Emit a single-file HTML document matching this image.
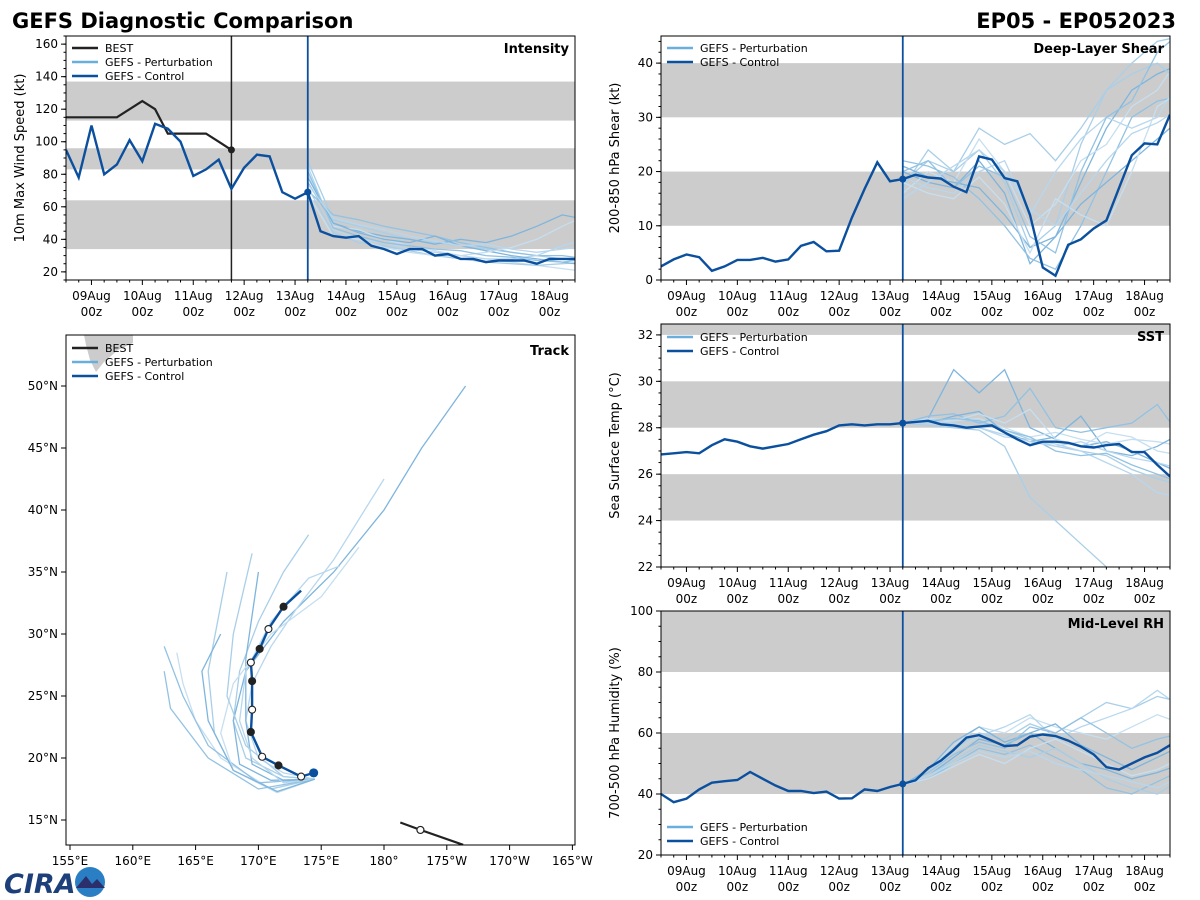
<!DOCTYPE html>
<html><head><meta charset="utf-8"><style>
body{margin:0;background:#fff;}
svg{display:block;font-family:"DejaVu Sans","Liberation Sans",sans-serif;}
</style></head><body>
<svg id="s" width="1200" height="900" viewBox="0 0 1200 900" xmlns="http://www.w3.org/2000/svg">
<text x="12" y="28" font-size="21" font-weight="bold" fill="#000">GEFS Diagnostic Comparison</text>
<text x="1176" y="28" font-size="21" font-weight="bold" fill="#000" text-anchor="end">EP05 - EP052023</text>
<g>
<text x="4" y="893" font-size="27" font-weight="bold" fill="#1d3f7a" font-style="italic">CIRA</text>
<circle cx="90" cy="882" r="15" fill="#2a7fc4"/>
<path d="M76,888 L86,876 L92,884 L97,879 L105,888 Z" fill="#2b2f6b"/>
</g>
</svg>
<script>
const NS='http://www.w3.org/2000/svg';
const svg=document.getElementById('s');
// ---------------- DATA ----------------
const dayLabels=['09Aug','10Aug','11Aug','12Aug','13Aug','14Aug','15Aug','16Aug','17Aug','18Aug'];
const dayValues=[1,2,3,4,5,6,7,8,9,10];
const analysisTime=5.25;
const bestTimes=[0.5,0.75,1,1.25,1.5,1.75,2,2.25,2.5,2.75,3,3.25,3.5,3.75];
const bestIntensity=[115,115,115,115,115,120,125,120,105,105,105,105,100,95];
const intensityControl=[95,78,110,80,86,101,88,111,108,100,79,83,89,71,84,92,91,69,65,69,45,42,41,42,36,34,31,34,34,30,31,28,28,26,27,27,27,25,28,28,28];
const shearControl=[2.5,3.8,4.7,4.2,1.7,2.5,3.7,3.7,4.1,3.4,3.8,6.3,7.0,5.3,5.4,11.5,16.8,21.7,18.2,18.6,19.4,18.9,18.7,17.2,16.2,22.8,22.2,18.8,18.2,12,2.3,0.8,6.5,7.5,9.5,11,17,23,25.2,25,30.5];
const sstControl=[26.85,26.9,26.95,26.9,27.25,27.5,27.4,27.2,27.1,27.2,27.3,27.5,27.7,27.85,28.1,28.15,28.1,28.15,28.15,28.2,28.25,28.3,28.15,28.1,28.0,28.05,28.1,27.8,27.5,27.25,27.4,27.4,27.35,27.2,27.15,27.25,27.3,26.95,26.95,26.4,25.9];
const rhControl=[40,37.3,38.5,41.5,43.7,44.2,44.6,47.2,45,42.8,41,41,40.3,40.8,38.5,38.6,41.5,41,42.3,43.3,44.5,48.5,51,54.5,58.5,59.3,57.5,55.7,56,58.8,59.5,59,57.5,55.5,53,48.8,48,50,52,53.5,56];
const intensityPert=[
[88,52,48,44,40,38,36,34,32,30,28,26],[75,50,45,42,40,37,40,38,42,48,55,52],[80,48,46,40,36,33,30,28,26,24,22,20],
[70,55,52,48,45,42,38,35,32,30,30,28],[85,46,40,38,34,32,30,28,28,30,36,40],[72,44,38,36,33,30,28,26,25,24,25,26],
[78,50,44,40,38,42,36,33,30,28,26,24],[68,42,40,35,32,30,30,32,35,40,48,55],[82,47,42,38,36,34,33,30,29,27,26,28],
[74,53,49,46,42,39,36,37,34,32,34,36]];
const shearPert=[
[18,22,20,24,18,6,10,25,35,40,44,45],[20,18,17,22,16,3,8,18,28,35,38,40],[16,20,18,26,20,10,14,22,25,32,35,42],
[22,21,19,15,10,4,2,10,20,30,33,34],[19,17,16,20,22,12,20,26,30,28,30,38],[17,24,20,28,25,27,22,28,35,38,40,36],
[21,19,18,17,12,6,8,14,18,22,26,30],[18,16,15,19,14,5,15,12,10,20,32,35],[20,22,17,21,19,8,5,20,30,33,42,46],
[15,18,21,24,20,13,10,16,22,27,29,32]];
const sstPert=[
[28.2,28.3,28.4,28.2,27.9,27.5,27.2,27.0,26.8,26.2,25.8,25.5],[28.2,28.4,30.5,29.5,30.5,28,27.5,27.2,27.4,27.0,26.5,26.0],
[28.2,28.2,28.3,28.4,28.0,27.6,27.8,27.5,27.3,27.5,27.4,27.2],[28.2,28.5,28.6,28.2,28.5,29.7,28.0,27.8,28.0,28.2,29.0,27.5],
[28.2,28.3,28.2,28.0,27.6,27.5,27.3,27.0,26.5,26.0,25.2,25.0],[28.2,28.1,28.0,27.9,27.2,25.0,24.0,23.0,22.0,21.0,20.5,20],
[28.2,28.2,28.5,28.7,27.8,27.4,27.6,28.5,27.0,26.8,27.2,27.8],[28.2,28.4,28.3,28.6,28.2,28.8,27.5,27.2,27.8,27.6,27.0,26.8],
[28.2,28.3,28.4,28.3,27.9,27.6,27.0,26.8,26.9,26.4,26.0,25.6],[28.2,28.2,28.1,28.0,27.7,27.4,27.2,27.4,27.0,26.7,26.5,26.2]];
const rhPert=[
[43,47,55,60,58,63,60,65,70,68,72,70],[43,46,52,58,56,60,55,50,48,45,47,50],[43,48,56,62,60,65,62,60,58,62,66,63],
[43,45,50,55,53,56,52,48,42,40,44,48],[43,47,54,59,62,66,58,62,65,68,74,68],[43,46,51,56,54,52,55,50,45,42,40,45],
[43,48,57,62,57,60,63,56,52,48,52,56],[43,45,49,53,50,55,58,54,50,46,48,52],[43,47,53,57,55,62,60,65,60,55,58,60],
[43,46,50,54,52,54,50,48,46,44,42,46]];
const controlTrackLon=[174.4,173.4,171.6,170.3,169.4,169.5,169.5,169.4,170.1,170.8,172.0,173.4];
const controlTrackLat=[18.8,18.5,19.4,20.1,22.1,23.9,26.2,27.7,28.8,30.4,32.2,33.5];
const bestTrackLon=[181.3,182.9,186.3];
const bestTrackLat=[14.8,14.2,13.0];
const pertTrackLon=[
[174.5,172,169,168,168.5,170,172,174],[174.5,171,168.5,168,169,172,176,180,183,186.5],[174.5,171,167,165,164,163.5],
[174.5,170,166,164,162.5],[174.5,172,170,169,169.5,171,173,176,180],[174.5,171,168,166.5,166,167.5],
[174.5,172,169.5,169,169,170],[174.5,171.5,168,167,168,171,175,178],[174.5,170,166,163,162.5],
[174.5,172,169.5,168.5,169,171,174,176.5],[174.5,172,169,167.5,168,169.5],[174.5,171.5,168,166,165.5,167]];
const pertTrackLat=[
[18.3,18.5,20,23,27,31,35,38],[18.3,18.2,19.5,23,27,31,35,40,45,50],[18.3,17.5,20,23,26,28.5],
[18.3,18,21,25,29],[18.3,18.8,20,23,26,29,32,36,42.5],[18.3,17.5,19,22,27,35],
[18.3,18.2,19.5,23,28,35],[18.3,17.2,19,22,26,30,33,37],[18.3,17.5,20,24,27],
[18.3,18,20,23,27,31,34.5,35.5],[18.3,18.5,21,25,30,36.5],[18.3,17.3,19,23,27,30]];
const lonTicks=[155,160,165,170,175,180,185,190,195];
const lonTickLabels=['155°E','160°E','165°E','170°E','175°E','180°','175°W','170°W','165°W'];
const latTicks=[15,20,25,30,35,40,45,50];
const latTickLabels=['15°N','20°N','25°N','30°N','35°N','40°N','45°N','50°N'];
// ---------------- HELPERS ----------------
const CTRL='#0b509e', PERT=['#a9cfe8','#7fb5dd','#c6dff0','#92c2e3','#b7d7ee'];
function el(tag,attrs,parent){const e=document.createElementNS(NS,tag);for(const k in attrs)e.setAttribute(k,attrs[k]);(parent||svg).appendChild(e);return e;}
function txt(x,y,s,size,anchor,parent,extra){const t=el('text',Object.assign({x:x,y:y,'font-size':size,'text-anchor':anchor||'start',fill:'#000'},extra||{}),parent);t.textContent=s;return t;}
function pathD(xs,ys){return xs.map((x,i)=>(i?'L':'M')+x.toFixed(1)+','+ys[i].toFixed(1)).join('');}
let clipN=0;
function panel(o){
  const g=el('g',{});
  
  
  const X=t=>o.x0+(t-o.t0)/(o.t1-o.t0)*(o.x1-o.x0);
  const Y=v=>o.y1-(v-o.v0)/(o.v1-o.v0)*(o.y1-o.y0);
  const cid='c'+(clipN++);
  const cp=el('clipPath',{id:cid},g);el('rect',{x:o.x0,y:o.y0,width:o.x1-o.x0,height:o.y1-o.y0},cp);
  const pg=el('g',{'clip-path':'url(#'+cid+')'},g);
  o.bands.forEach(b=>{const r=el('rect',{x:o.x0,y:Y(b[1]),width:o.x1-o.x0,height:Y(b[0])-Y(b[1]),fill:'#cccccc'},pg);
    
    });
  o.pert.forEach((m,i)=>{const ts=m.map((v,k)=>analysisTime+0.5*k);
    const p=el('path',{d:pathD(ts.map(X),m.map(Y)),fill:'none',stroke:PERT[i%PERT.length],'stroke-width':1.3},pg);
    
    });
  if(o.best){const p=el('path',{d:pathD(bestTimes.map(X),o.best.map(Y)),fill:'none',stroke:'#222','stroke-width':2.2},pg);
    
    
    const c=el('circle',{cx:X(bestTimes[bestTimes.length-1]),cy:Y(o.best[o.best.length-1]),r:3.5,fill:'#222'},pg);
    
    
    const l=el('line',{x1:X(bestTimes[bestTimes.length-1]),x2:X(bestTimes[bestTimes.length-1]),y1:o.y0,y2:o.y1,stroke:'#222','stroke-width':1.5},pg);
    
    }
  const ct=o.ctrl.map((v,k)=>0.5+0.25*k);
  const cl=el('path',{d:pathD(ct.map(X),o.ctrl.map(Y)),fill:'none',stroke:CTRL,'stroke-width':2.4},pg);
  
  
  const al=el('line',{x1:X(analysisTime),x2:X(analysisTime),y1:o.y0,y2:o.y1,stroke:CTRL,'stroke-width':1.8},pg);
  
  
  const ai=ct.indexOf(analysisTime);
  const ad=el('circle',{cx:X(analysisTime),cy:Y(o.ctrl[ai]),r:3.5,fill:CTRL},pg);
  
  
  const fr=el('rect',{x:o.x0,y:o.y0,width:o.x1-o.x0,height:o.y1-o.y0,fill:'none',stroke:'#000','stroke-width':1},g);
  
  
  const xa=el('g',{},g);
  for(let t=o.t0;t<=o.t1+1e-6;t+=0.25){const x=X(t);const major=dayValues.includes(t);
    el('line',{x1:x,x2:x,y1:o.y1,y2:o.y1+(major?5:2.5),stroke:'#000'},xa);}
  dayValues.forEach((d,i)=>{const x=X(d);const a=txt(x,o.y1+20,dayLabels[i],12,'middle',xa);
    
    const b=txt(x,o.y1+36,'00z',12,'middle',xa);
    });
  const ya=el('g',{},g);
  for(let v=Math.ceil(o.v0/o.minor)*o.minor;v<=o.v1+1e-6;v+=o.minor){el('line',{x1:o.x0-2.5,x2:o.x0,y1:Y(v),y2:Y(v),stroke:'#000'},ya);}
  o.yticks.forEach(v=>{el('line',{x1:o.x0-5,x2:o.x0,y1:Y(v),y2:Y(v),stroke:'#000'},ya);
    const t=txt(o.x0-8,Y(v)+4,String(v),12,'end',ya);});
  const yl=txt(0,0,o.ylabel,13,'middle',ya,{transform:'translate('+(o.x0-42)+','+((o.y0+o.y1)/2)+') rotate(-90)'});
  
  const tt=txt(o.x1-6,o.y0+17,o.title,13,'end',g,{'font-weight':'bold'});
  
  legend(g,o.x0+6,o.legendY,o.best?true:false);
}
function legend(g,x,y,withBest){
  const lg=el('g',{},g);
  const items=[];if(withBest)items.push(['BEST','#222']);items.push(['GEFS - Perturbation','#6aaedc'],['GEFS - Control',CTRL]);
  items.forEach((it,i)=>{const yy=y+i*14;
    const e=el('g',{},lg);
    el('line',{x1:x,x2:x+26,y1:yy,y2:yy,stroke:it[1],'stroke-width':2.5},e);
    txt(x+33,yy+4,it[0],11,'start',e);});
}
const common={t0:0.5,t1:10.5};
panel(Object.assign({name:'intensity-panel',x0:66,x1:575,y0:36,y1:280,v0:15,v1:165,minor:5,yticks:[20,40,60,80,100,120,140,160],
  bands:[[34,64],[83,96],[113,137]],pert:intensityPert,ctrl:intensityControl,best:bestIntensity,
  ylabel:'10m Max Wind Speed (kt)',title:'Intensity',legendY:48},common));
panel(Object.assign({name:'shear-panel',x0:661,x1:1170,y0:36,y1:280,v0:0,v1:45,minor:2,yticks:[0,10,20,30,40],
  bands:[[10,20],[30,40]],pert:shearPert,ctrl:shearControl,
  ylabel:'200-850 hPa Shear (kt)',title:'Deep-Layer Shear',legendY:48},common));
panel(Object.assign({name:'sst-panel',x0:661,x1:1170,y0:324,y1:567,v0:22,v1:32.47,minor:0.5,yticks:[22,24,26,28,30,32],
  bands:[[24,26],[28,30],[32,34]],pert:sstPert,ctrl:sstControl,
  ylabel:'Sea Surface Temp (°C)',title:'SST',legendY:337},common));
panel(Object.assign({name:'rh-panel',x0:661,x1:1170,y0:611,y1:855,v0:20,v1:100,minor:5,yticks:[20,40,60,80,100],
  bands:[[40,60],[80,100]],pert:rhPert,ctrl:rhControl,
  ylabel:'700-500 hPa Humidity (%)',title:'Mid-Level RH',legendY:827},common));
// ---------------- TRACK MAP ----------------
(function(){
  const x0=66,x1=575,y0=335,y1=845;
  const LX=lon=>70+(lon-155)*12.56, LY=lat=>820-(lat-15)*12.4;
  const g=el('g',{});
  const cp=el('clipPath',{id:'ctrack'},g);el('rect',{x:x0,y:y0,width:x1-x0,height:y1-y0},cp);
  const pg=el('g',{'clip-path':'url(#ctrack)'},g);
  const land=el('path',{d:'M84,335 L133,335 L133,343 L118,350 L104,362 L96,372 L90,360 L86,345 Z',fill:'#cccccc'},pg);
  
  pertTrackLon.forEach((lons,i)=>{const p=el('path',{d:pathD(lons.map(LX),pertTrackLat[i].map(LY)),fill:'none',stroke:PERT[i%PERT.length],'stroke-width':1.3},pg);
    });
  const bp=el('path',{d:pathD(bestTrackLon.map(LX),bestTrackLat.map(LY)),fill:'none',stroke:'#222','stroke-width':2.2},pg);
  
  const bm=el('circle',{cx:LX(bestTrackLon[1]),cy:LY(bestTrackLat[1]),r:3.5,fill:'#fff',stroke:'#222','stroke-width':1.2},pg);
  
  const cpth=el('path',{d:pathD(controlTrackLon.map(LX),controlTrackLat.map(LY)),fill:'none',stroke:CTRL,'stroke-width':2.4},pg);
  
  controlTrackLon.forEach((lon,i)=>{if(i===controlTrackLon.length-1)return;
    const c=el('circle',{cx:LX(lon),cy:LY(controlTrackLat[i]),r:i===0?4:3.5,fill:i===0?CTRL:(i%2?'#fff':'#222'),stroke:i===0?CTRL:'#222','stroke-width':1.1},pg);
    });
  const fr=el('rect',{x:x0,y:y0,width:x1-x0,height:y1-y0,fill:'none',stroke:'#000'},g);
  
  lonTicks.forEach((v,i)=>{const x=LX(v);el('line',{x1:x,x2:x,y1:y1,y2:y1+5,stroke:'#000'},g);
    const t=txt(x,y1+20,lonTickLabels[i],12,'middle',g);});
  latTicks.forEach((v,i)=>{const y=LY(v);el('line',{x1:x0-5,x2:x0,y1:y,y2:y,stroke:'#000'},g);
    const t=txt(x0-8,y+4,latTickLabels[i],12,'end',g);});
  const tt=txt(x1-6,y0+20,'Track',13,'end',g,{'font-weight':'bold'});
  legend(g,x0+6,y0+13,true);
})();
</script>
</body></html>
